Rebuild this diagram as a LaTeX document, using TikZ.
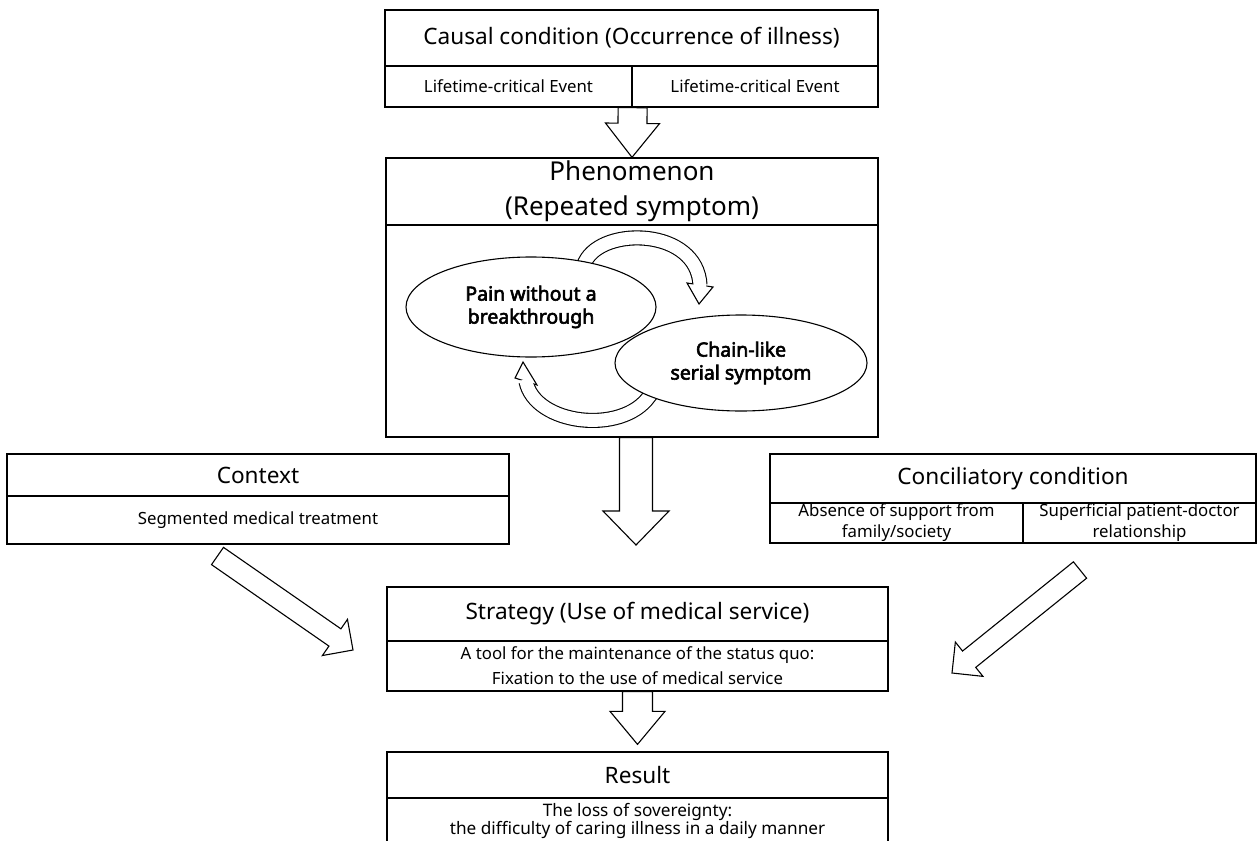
\documentclass[tikz,border=0pt]{standalone}
\usepackage{fontspec}
\setmainfont{Noto Sans}
\newfontfamily\ovalfont[FakeBold=3]{Noto Sans}
\usetikzlibrary{calc,shapes.geometric}

\pgfdeclarelayer{back}
\pgfsetlayers{back,main}

\newcommand{\blockarrow}[5]{%
  \coordinate (hb) at ($(#2)!#5!(#1)$);
  \draw[arrowline] ($(#1)!#3!90:(#2)$) -- ($(hb)!#3!90:(#2)$) -- ($(hb)!#4!90:(#2)$) -- (#2)
    -- ($(hb)!#4!-90:(#2)$) -- ($(hb)!#3!-90:(#2)$) -- ($(#1)!#3!-90:(#2)$) -- cycle;
}

\begin{document}
\begin{tikzpicture}[x=1pt, y=-1pt,
    hdbox/.style={draw, line width=1.3pt, inner sep=0pt, font=\fontsize{22.6}{26}\selectfont},
    subbox/.style={draw, line width=1.3pt, inner sep=0pt, align=center, font=\fontsize{16.8}{17}\selectfont},
    oval/.style={ellipse, draw, line width=1.1pt, fill=white, inner sep=0pt, align=center, font=\ovalfont\fontsize{19.5}{23}\selectfont},
    arrowline/.style={draw, line width=1.1pt, fill=white, line join=miter},
    shaftout/.style={line width=15.1pt},
    shaftin/.style={line width=12.9pt, white}]
  \useasboundingbox (0,0) rectangle (1257,840);

  \node[hdbox, minimum width=493pt, minimum height=56pt] (cause) at (631.5,38) {Causal condition (Occurrence of illness)};
  \node[subbox, minimum width=247pt, minimum height=41pt] (causeL) at (508.5,86.5) {Lifetime-critical Event};
  \node[subbox, minimum width=246pt, minimum height=41pt] (causeR) at (755,86.5) {Lifetime-critical Event};

  \node[hdbox, minimum width=492pt, minimum height=67pt, align=center, font=\fontsize{26}{35}\selectfont] (phen) at (632,191.5) {Phenomenon\\(Repeated symptom)};
  \node[draw, line width=1.3pt, minimum width=492pt, minimum height=212pt] (phenbody) at (632,331) {};

  \node[oval, minimum width=250pt, minimum height=100pt] (pain) at (531,307) {Pain without a\\breakthrough};
  \node[oval, minimum width=252pt, minimum height=96pt] (chain) at (741,363) {Chain-like\\serial symptom};

  \coordinate (hbtop) at (700,285);
  \coordinate (hbbot) at (526,381.5);
  \begin{pgfonlayer}{back}
    \draw[shaftout] ($(pain.40)+(-4,8)$) -- (pain.40) .. controls (603,226) and (697,228) .. (hbtop);
    \draw[arrowline] (687,283) -- (699,304) -- (713,287) -- cycle;
    \draw[shaftin] ($(pain.40)+(-4,8)$) -- (pain.40) .. controls (603,226) and (697,228) .. (hbtop) -- ++(0,2);

    \draw[shaftout] ($(chain.200)+(5,-6)$) -- (chain.200) .. controls (622,435) and (535,425) .. (hbbot);
    \draw[arrowline] (515,378) -- (523,362) -- (537,385) -- cycle;
    \draw[shaftin] ($(chain.200)+(5,-6)$) -- (chain.200) .. controls (622,435) and (535,425) .. (hbbot) -- ++(-0.4,-2);
  \end{pgfonlayer}

  \node[hdbox, minimum width=502pt, minimum height=42pt] (ctx) at (258,475) {Context};
  \node[subbox, minimum width=502pt, minimum height=48pt] (ctxsub) at (258,520) {Segmented medical treatment};

  \node[hdbox, minimum width=486pt, minimum height=49pt] (conc) at (1013,478.5) {Conciliatory condition};
  \node[subbox, minimum width=253pt, minimum height=40pt] (concL) at (896.5,523) {Absence of support from\\[4pt]family/society};
  \node[subbox, minimum width=233pt, minimum height=40pt] (concR) at (1139.5,523) {Superficial patient-doctor\\[4pt]relationship};

  \node[hdbox, minimum width=501pt, minimum height=54pt] (strat) at (637.5,614) {Strategy (Use of medical service)};
  \node[subbox, minimum width=501pt, minimum height=50pt] (stratsub) at (637.5,666) {A tool for the maintenance of the status quo:\\[8pt]Fixation to the use of medical service};

  \node[hdbox, minimum width=501pt, minimum height=46pt] (res) at (637.5,775) {Result};
  \node[subbox, minimum width=501pt, minimum height=46pt, font=\fontsize{17.2}{16}\selectfont] (ressub) at (637.5,821) {The loss of sovereignty:\\the difficulty of caring illness in a daily manner};

  \coordinate (a2tip) at (636,545);
  \coordinate (a2tail) at (phenbody.south -| a2tip);
  \coordinate (a3tip) at ($(res.north)+(0,-7)$);
  \coordinate (a4tail) at (217.5,556);
  \coordinate (a4tip) at (353,650);
  \coordinate (a5tail) at (1080,570);
  \coordinate (a5tip) at (952,673);

  \blockarrow{causeL.south east}{phen.north}{14.5pt}{27pt}{34pt}
  \blockarrow{a2tail}{a2tip}{16.5pt}{33pt}{34pt}
  \blockarrow{stratsub.south}{a3tip}{15pt}{27.5pt}{33pt}
  \blockarrow{a4tail}{a4tip}{10.5pt}{22pt}{22pt}
  \blockarrow{a5tail}{a5tip}{10.5pt}{22pt}{22pt}
\end{tikzpicture}
\end{document}
